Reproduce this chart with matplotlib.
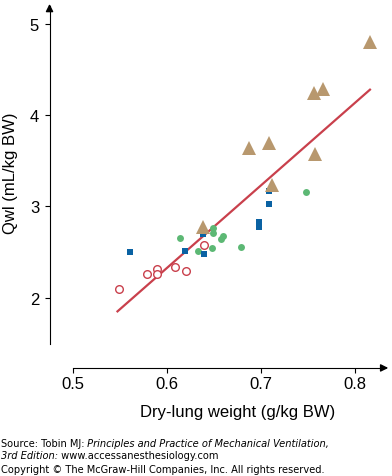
import numpy as np
import matplotlib.pyplot as plt

plt.rcParams['font.family'] = ['Liberation Sans', 'DejaVu Sans']

# datos
tri_x = [0.816, 0.756, 0.766, 0.687, 0.708, 0.757, 0.711, 0.638]
tri_y = [4.80, 4.24, 4.29, 3.64, 3.70, 3.58, 3.23, 2.77]

sq_x = [0.560, 0.619, 0.638, 0.639, 0.698, 0.698, 0.708, 0.708]
sq_y = [2.50, 2.51, 2.70, 2.48, 2.83, 2.78, 3.17, 3.03]

gc_x = [0.614, 0.649, 0.649, 0.659, 0.657, 0.633, 0.648, 0.678, 0.748]
gc_y = [2.65, 2.76, 2.71, 2.68, 2.64, 2.51, 2.54, 2.56, 3.16]

oc_x = [0.549, 0.578, 0.589, 0.589, 0.608, 0.620, 0.639]
oc_y = [2.09, 2.26, 2.31, 2.26, 2.34, 2.29, 2.58]

# recta de regresion (extremos)
fit_x = [0.547, 0.8156]
fit_y = [1.85, 4.28]

xticks = [0.5, 0.6, 0.7, 0.8]
yticks = [2, 3, 4, 5]

fig = plt.figure(figsize=(3.92, 4.77), dpi=100)
ax = fig.add_axes([0.1151, 0.2208, 0.8872, 0.7785])
ax.set_xlim(0.47, 0.84)
ax.set_ylim(1.2, 5.27)

ax.plot(fit_x, fit_y, color='#c9404c', lw=1.6, zorder=2)
ax.plot(oc_x, oc_y, 'o', mfc='white', mec='#c9404c', mew=1.0, ms=5.5, zorder=3)
ax.plot(gc_x, gc_y, 'o', color='#5cb874', ms=5, mew=0, zorder=3)
ax.plot(sq_x, sq_y, 's', color='#0a62a3', ms=5, mew=0, zorder=4)
ax.plot(tri_x, tri_y, '^', color='#b8986e', ms=9.5, mew=0, zorder=4)

# ejes con flecha
for s in ['top', 'right']:
    ax.spines[s].set_visible(False)
ax.spines['left'].set_position(('data', 0.4747))
ax.spines['left'].set_bounds(1.49, 5.2)
ax.spines['bottom'].set_position(('data', 1.23))
ax.spines['bottom'].set_bounds(0.5, 0.832)
ax.annotate('', xy=(0.838, 1.23), xytext=(0.826, 1.23),
            arrowprops=dict(arrowstyle='-|>', color='k', lw=1, mutation_scale=11),
            annotation_clip=False)
ax.annotate('', xy=(0.4747, 5.25), xytext=(0.4747, 5.12),
            arrowprops=dict(arrowstyle='-|>', color='k', lw=1, mutation_scale=11),
            annotation_clip=False)

ax.set_xticks(xticks)
ax.set_yticks(yticks)
ax.set_xticklabels(['0.5', '0.6', '0.7', '0.8'])
ax.tick_params(axis='x', length=3.5, pad=2, labelsize=12)
ax.tick_params(axis='y', length=3.5, pad=4, labelsize=12)

fig.text(238/392, 1 - 413/477, 'Dry-lung weight (g/kg BW)', ha='center', va='center', fontsize=12)
fig.text(11/392, 1 - 173/477, 'Qwl (mL/kg BW)', ha='center', va='center', fontsize=12, rotation=90)

# pie de figura, por trozos (normal / cursiva)
renderer = fig.canvas.get_renderer()
W = fig.get_figwidth() * fig.dpi

def linea(y, partes):
    x = 1
    for txt, estilo in partes:
        t = fig.text(x / W, 1 - y / 477, txt, ha='left', va='center', fontsize=7.1,
                     family='DejaVu Sans', style=estilo)
        x = t.get_window_extent(renderer).x1

linea(444, [('Source: Tobin MJ:', 'normal'),
            (' Principles and Practice of Mechanical Ventilation,', 'italic')])
linea(456, [('3rd Edition:', 'italic'), (' www.accessanesthesiology.com', 'normal')])
linea(470, [('Copyright \u00a9 The McGraw-Hill Companies, Inc. All rights reserved.', 'normal')])

fig.savefig('out.png', dpi=100)
